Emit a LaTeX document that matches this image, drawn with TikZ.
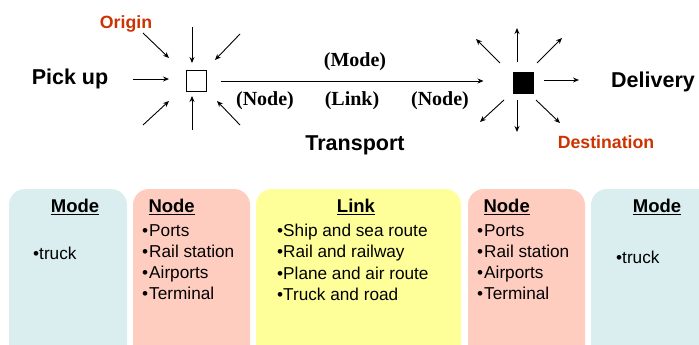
\documentclass[tikz,border=0pt]{standalone}
\usepackage{fontspec}
\setmainfont{Liberation Sans}
\newfontfamily\serifb{Liberation Serif}
\usetikzlibrary{arrows.meta,calc}
\definecolor{modeblue}{HTML}{DAEEF0}
\definecolor{nodepink}{HTML}{FFCDC0}
\definecolor{linkyellow}{HTML}{FFFF99}
\definecolor{origred}{HTML}{CC3300}
\tikzset{
  arr/.style={-{Stealth[length=6pt,width=5pt]}, line width=0.9pt},
  panel/.style={rounded corners=16pt},
  big/.style={font=\fontsize{21.5}{25}\selectfont\bfseries},
  red/.style={text=origred, font=\fontsize{17.7}{21}\selectfont\bfseries},
  paren/.style={font=\serifb\fontsize{20}{23}\selectfont\bfseries},
  head/.style={font=\fontsize{18.5}{22}\selectfont\bfseries},
  items/.style={font=\fontsize{17.2}{21.3}\selectfont, align=left, anchor=north west, inner sep=0pt},
}
\begin{document}
\begin{tikzpicture}[x=1pt,y=-1pt]
\useasboundingbox (0,0) rectangle (699,345);
\fill[white] (0,0) rectangle (699,345);
\begin{scope}
\clip (0,0) rectangle (699,345);
% panels
\fill[modeblue,panel] (9,189) rectangle (127,380);
\fill[nodepink,panel] (133,189) rectangle (250,380);
\fill[linkyellow,panel] (256,189) rectangle (461,380);
\fill[nodepink,panel] (468,189) rectangle (585,380);
\fill[modeblue,panel] (591,189) rectangle (760,380);
\end{scope}
% squares
\node[draw, line width=1pt, minimum width=20pt, minimum height=21pt, inner sep=0pt] (o) at (196,81) {};
\node[draw, fill=black, line width=1pt, minimum width=20pt, minimum height=21pt, inner sep=0pt] (d) at (523,83) {};
% main connector
\draw[arr, shorten <=14pt, shorten >=29pt] (o.east) -- (d.west |- o.east);
% incoming arrows
\draw[arr] (143,33) -- (169,58);
\draw[arr] (192,27) -- (192,63);
\draw[arr] (240,34) -- (215,60);
\draw[arr] (133,79) -- (169,79);
\draw[arr] (143,125) -- (169,101);
\draw[arr] (192,130) -- (192,96);
\draw[arr] (240,125) -- (217,101);
% outgoing arrows
\draw[arr] (517,62) -- (517,28);
\draw[arr] (500,63) -- (476,39);
\draw[arr] (537,63) -- (562,38);
\draw[arr] (544,80) -- (579,80);
\draw[arr] (504,100) -- (480,122);
\draw[arr] (517,100) -- (517,132);
\draw[arr] (536,100) -- (560,123);
% labels
\node[red] (origin) at (126,24) {Origin};
\node[big] (pick) at (70,79) {Pick up};
\node[paren] (mode) at (355,62) {(Mode)};
\node[paren] (n1) at (265,101) {(Node)};
\node[paren] (lk) at (352,101) {(Link)};
\node[paren] (n2) at (440,101) {(Node)};
\node[big] (tr) at (355,145) {Transport};
\node[big] (del) at (653,82) {Delivery};
\node[red] (dest) at (606,142) {Destination};
% panel texts
\node[head] (h1) at (75,207) {\underline{Mode}};
\node[items] (t1) at (33,247) {•truck};
\node[head, anchor=west] (h2) at (145,207) {\underline{Node}};
\node[items] (t2) at (142,224) {•\kern1pt Ports\\•\kern1pt Rail station\\•\kern1pt Airports\\•\kern1pt Terminal};
\node[head] (h3) at (356,207) {\underline{Link}};
\node[items] (t3) at (277,224) {•Ship and sea route\\•Rail and railway\\•Plane and air route\\•Truck and road};
\node[head, anchor=west] (h4) at (480,207) {\underline{Node}};
\node[items] (t4) at (477,224) {•\kern1pt Ports\\•\kern1pt Rail station\\•\kern1pt Airports\\•\kern1pt Terminal};
\node[head] (h5) at (657,207) {\underline{Mode}};
\node[items] (t5) at (616,251) {•truck};
\end{tikzpicture}
\end{document}
